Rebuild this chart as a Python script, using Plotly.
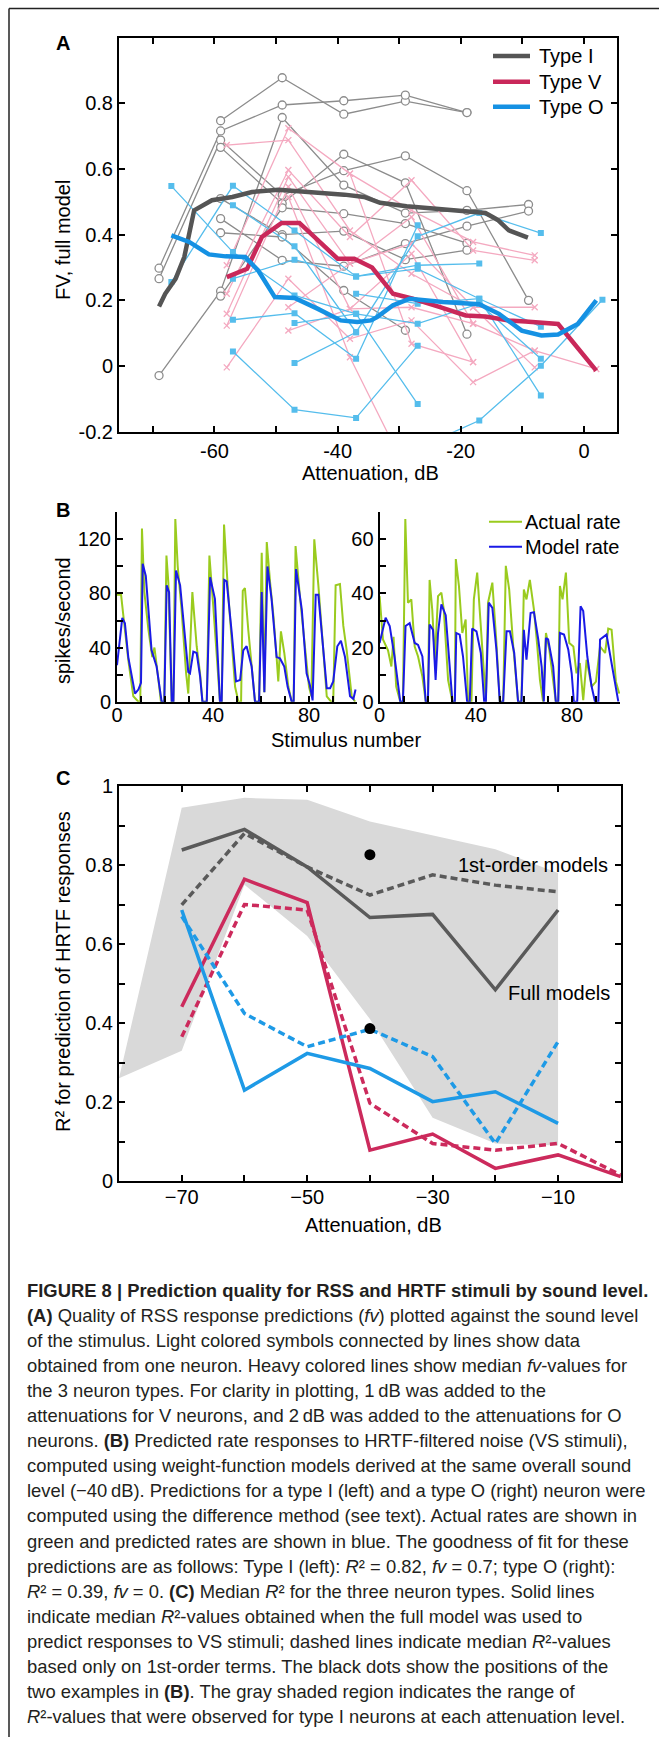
import plotly.graph_objects as go

W, H = 659, 1737
def px(x): return x / W
def py(y): return 1 - y / H

FONT = "Liberation Sans, Arial, sans-serif"

# ---------------- Panel A data ----------------
typeI_atten = [-69, -59, -49, -39, -29, -19, -9]
typeI_neurons = [
    [None, 0.747, 0.878, 0.767, 0.807, 0.772, None],
    [0.298, 0.716, 0.795, 0.808, 0.825, 0.772, None],
    [0.266, 0.688, 0.52, 0.595, 0.64, 0.534, 0.2],
    [None, 0.666, 0.495, 0.645, 0.558, 0.097, None],
    [-0.029, 0.228, 0.757, 0.551, 0.466, 0.474, 0.492],
    [None, 0.213, 0.482, 0.464, 0.434, 0.374, None],
    [None, 0.51, 0.40, 0.411, 0.324, 0.353, None],
    [None, 0.449, 0.322, 0.304, 0.373, 0.426, 0.472],
    [None, 0.406, 0.393, 0.23, 0.109, None, None],
]
typeV_atten = [-58, -48, -38, -28, -18, -8, 2]
typeV_neurons = [
    [0.673, 0.688, 0.413, 0.281, 0.179, 0.179, None],
    [0.307, 0.724, 0.586, 0.474, 0.378, 0.337, None],
    [0.220, 0.597, 0.393, 0.566, 0.352, 0.322, None],
    [0.159, 0.576, 0.312, 0.454, 0.129, 0.047, -0.009],
    [0.123, 0.546, 0.174, 0.342, 0.012, None, None],
    [-0.004, 0.266, 0.083, 0.139, -0.049, 0.047, None],
    [None, 0.515, 0.027, -0.35, None, None, None],
    [None, 0.179, 0.312, 0.373, 0.179, -0.004, None],
    [None, 0.108, 0.174, 0.179, 0.129, None, None],
    [None, None, 0.586, 0.068, 0.012, None, None],
]
typeO_atten = [-67, -57, -47, -37, -27, -17, -7, 3]
typeO_neurons = [
    [0.548, 0.347, 0.215, 0.159, 0.129, 0.19, 0.022, None],
    [0.256, 0.549, 0.413, 0.273, 0.307, 0.312, None, None],
    [None, 0.49, 0.365, 0.103, 0.395, 0.466, 0.405, None],
    [None, 0.266, 0.324, 0.273, 0.296, 0.205, 0.12, None],
    [None, 0.141, 0.161, 0.022, 0.429, None, None, None],
    [None, 0.044, -0.133, -0.158, 0.062, None, None, None],
    [None, None, 0.009, 0.103, None, None, None, None],
    [None, None, 0.131, 0.159, -0.116, None, None, None],
    [None, None, None, None, -0.25, -0.166, 0.001, 0.202],
    [None, None, None, 0.22, 0.19, 0.205, -0.09, None],
]
medI_x = [-69, -68, -66.3, -64.9, -63.3, -60.4, -57.1, -53.9, -49.6, -44.3, -38.9, -35.7,
          -33.1, -28.8, -20.3, -16, -14, -12.2, -9.1]
medI_y = [0.181, 0.22, 0.266, 0.332, 0.474, 0.505, 0.515, 0.530, 0.537, 0.530, 0.522, 0.515,
          0.497, 0.487, 0.474, 0.466, 0.445, 0.413, 0.391]
medV_x = [-58, -54.7, -52.3, -49.1, -46.2, -43.2, -40, -37.3, -34.4, -31, -27.8, -23.5,
          -19.2, -16, -12.2, -9.5, -4.2, 2]
medV_y = [0.271, 0.296, 0.393, 0.436, 0.436, 0.383, 0.327, 0.327, 0.30, 0.22, 0.205, 0.18,
          0.154, 0.151, 0.139, 0.136, 0.128, -0.014]
medO_x = [-67, -64.1, -60.9, -58.2, -55, -52.9, -50.2, -47, -43.2, -39.5, -36.8, -34.6,
          -33.6, -31, -28.3, -22.9, -17, -13.8, -10.1, -6.9, -4.2, -1, 2]
medO_y = [0.398, 0.378, 0.34, 0.334, 0.332, 0.291, 0.21, 0.207, 0.174, 0.139, 0.134, 0.139,
          0.149, 0.185, 0.205, 0.195, 0.188, 0.159, 0.108, 0.093, 0.096, 0.128, 0.2]

# ---------------- Panel B data ----------------
bl_model_x = [0, 2.2, 3.3, 4.7, 7.5, 8.9, 10, 10.7, 12, 14.4, 16.5, 18.6, 19.7, 20.7, 21.7, 22.8,
              23.5, 24.6, 26.3, 28.3, 29.7, 30.4, 31.8, 33.2, 34.6, 35.6, 37.4, 38.8, 40.8, 42.9,
              43.6, 44.7, 45.7, 47.8, 49.6, 51.3, 52.6, 54, 56.1, 57.5, 59.2, 60.3, 61.4, 62.7,
              64.4, 66.5, 67.9, 69.7, 71.1, 72.8, 73.6, 74.6, 77, 79, 80.4, 81.5, 82.8, 83.9,
              85.3, 87.4, 88.8, 90.1, 91.8, 93.3, 95, 97.1, 98.5, 99.4]
bl_model_y = [27, 62, 58, 33, 6, 9, 14, 102, 93, 38, 26, 0, 0, 86, 81, 0, 0, 97, 86, 46, 22, 21,
              37, 36, 19, 0, 0, 92, 76, 0, 0, 90, 89, 51, 15, 16, 38, 41, 26, 0, 0, 81, 7, 100,
              76, 33, 32, 26, 11, 0, 0, 98, 68, 21, 12, 1, 79, 79, 51, 10, 10, 15, 41, 45, 33,
              4, 2, 9]
bl_actual_x = [0, 1.7, 3.3, 4.7, 6.8, 8.9, 9.7, 10.4, 11.4, 13.1, 14.7, 15.6, 17, 18.3, 19.7,
               20.6, 21.4, 22.2, 22.8, 23.5, 24.3, 25.3, 26.9, 28.8, 29.7, 31.4, 33.2, 34.6,
               35.6, 37.4, 38.5, 40.1, 42.2, 42.9, 43.6, 44.6, 46.1, 47.8, 49.2, 50.6, 51.7,
               52.4, 53.3, 54.7, 56.8, 57.5, 59.2, 60.3, 61.4, 62.4, 63.8, 65.2, 66.5, 67.2,
               68.3, 69.7, 71.4, 72.8, 73.6, 74.4, 76.3, 78.3, 80, 81, 82.2, 83.9, 85.6, 87.4,
               89.2, 90.1, 91.1, 92.9, 94.3, 95.7, 97.8, 99.2]
bl_actual_y = [79, 79, 53, 31, 4, 0, 0, 128, 81, 53, 33, 40, 20, 0, 0, 108, 88, 46, 0, 0, 135,
               100, 68, 21, 6, 81, 41, 21, 0, 0, 108, 71, 21, 0, 0, 131, 86, 46, 11, 0, 0, 82,
               84, 53, 11, 0, 0, 110, 7, 118, 88, 63, 33, 15, 52, 36, 11, 0, 0, 115, 76, 41, 11,
               4, 120, 86, 43, 4, 0, 0, 86, 87, 56, 38, 4, 0]
br_model_x = [0, 2.5, 4.2, 6.2, 8.6, 9.7, 10.8, 12.5, 14.6, 16, 17.8, 19.2, 20.1, 20.8, 22.2,
              23.3, 24.3, 25.7, 27.5, 29.2, 30.3, 31.3, 31.9, 33.3, 34.7, 36.4, 37.5, 38.5,
              40.3, 42.1, 43.5, 44.2, 45.4, 46.9, 48.6, 50, 51.4, 52.8, 54.2, 56, 57.6, 59, 60,
              61.1, 62.8, 64.2, 66, 67.4, 68.3, 69.2, 70.1, 72.2, 73.3, 74.3, 75, 76.7, 78.5,
              79.9, 80.8, 82.2, 83.6, 84.7, 86.4, 88.2, 89.6, 91, 91.7, 94.4, 95.8, 97.9, 99.3]
br_model_y = [21.7, 31, 28, 16.7, 0, 0, 28, 29, 21.7, 21, 16.7, 0, 0, 28.5, 26.6, 8, 25.4, 36,
              32, 13, 0, 0, 25.4, 24.8, 16.7, 0, 0, 27, 26, 18, 0, 0, 36.6, 34.7, 19.2, 0, 0,
              26, 26, 18, 0, 0, 26.6, 15.5, 32.8, 33.1, 23, 13, 0, 23.5, 23, 13, 0, 0, 25.4,
              24.8, 19.2, 10.5, 0, 0, 35.3, 33.5, 16.7, 5.6, 0, 0, 23, 24.8, 18, 8, 0]
br_actual_x = [0, 1.4, 3.5, 4.9, 5.8, 6.9, 8.6, 9.7, 10.7, 11.8, 13.2, 14.6, 16, 17.8, 19.2,
               20.1, 20.8, 21.9, 23, 24.3, 25.7, 26.7, 28.5, 30.3, 31.3, 31.7, 33, 34.4, 35.8,
               36.8, 38.2, 39.2, 40.6, 41.7, 43, 44.2, 45.1, 46.9, 48.6, 50, 51.4, 52.5, 53.9,
               55.6, 57.6, 59, 60, 61.1, 62.5, 64.2, 65.6, 66.7, 68, 69.2, 70.6, 72.2, 73.3,
               74.3, 75, 76.1, 77.5, 78.9, 80.6, 81.9, 83.3, 84.7, 86.1, 88.2, 90, 91.7, 93.8,
               95.1, 96.5, 98.3, 99.7]
br_actual_y = [39, 23, 19, 13, 24, 5.6, 0, 0, 67.5, 36.6, 37.8, 20.4, 16.7, 9.3, 0, 0, 45, 34,
               15.5, 39, 40.3, 34, 8, 0, 0, 52.7, 42.8, 25.4, 30.4, 0, 0, 37.8, 47.7, 34, 16.7,
               0, 36.6, 44, 21.7, 0, 0, 50.2, 41.5, 20.4, 0, 0, 41.5, 37.8, 45, 34, 20.4, 8, 0,
               25.4, 19.2, 6.8, 0, 0, 42.8, 37.8, 47.7, 21.7, 20.4, 10.5, 14.3, 0.6, 15.5, 5.6,
               7.4, 20.4, 18, 27, 26.6, 7.4, 3]

# ---------------- Panel C data ----------------
c_atten7 = [-70, -60, -50, -40, -30, -20, -10]
c_atten8 = [-70, -60, -50, -40, -30, -20, -10, 0]
r2_I_full = [0.838, 0.890, 0.795, 0.667, 0.675, 0.484, 0.686]
r2_I_first = [0.699, 0.880, 0.795, 0.724, 0.775, 0.749, 0.732]
r2_V_full = [0.441, 0.764, 0.705, 0.078, 0.119, 0.032, 0.066, 0.011]
r2_V_first = [0.365, 0.700, 0.686, 0.197, 0.095, 0.078, 0.095, 0.015]
r2_O_full = [0.686, 0.230, 0.323, 0.285, 0.201, 0.226, 0.146]
r2_O_first = [0.670, 0.424, 0.340, 0.384, 0.315, 0.095, 0.353]
shade_x = [-80, -70, -60, -50, -40, -30, -20, -10]
shade_hi = [0.26, 0.945, 0.97, 0.965, 0.91, 0.875, 0.84, 0.78]
shade_lo = [0.26, 0.33, 0.75, 0.62, 0.41, 0.16, 0.095, 0.09]
example_x = [-40, -40]
example_r2 = [0.826, 0.386]

# ---------------- tick labels ----------------
a_x_major = [-60, -40, -20, 0]
a_x_minor = [-70, -50, -30, -10]
a_y_major = [-0.2, 0, 0.2, 0.4, 0.6, 0.8]
b_x_major = [0, 40, 80]
b_x_minor = [10, 20, 30, 50, 60, 70, 90]
bl_y_major = [0, 40, 80, 120]
bl_y_minor = [20, 60, 100, 140]
br_y_major = [0, 20, 40, 60]
br_y_minor = [10, 30, 50, 70]
c_x_major = [-70, -50, -30, -10]
c_x_minor = [-60, -40, -20]
c_y_major = [0, 0.2, 0.4, 0.6, 0.8, 1.0]
c_y_minor = [0.1, 0.3, 0.5, 0.7, 0.9]

# ---------------- colors ----------------
C_I_LIGHT, C_V_LIGHT, C_O_LIGHT = "#8c8c8c", "#f4a9c0", "#55bdec"
C_I, C_V, C_O = "#555555", "#c9285a", "#1591e3"
C_IC, C_VC, C_OC = "#5a5a5a", "#cc2a5c", "#1e9ae6"
C_GREEN, C_BLUE = "#9acb1e", "#1a1ae6"

fig = go.Figure()
common = dict(showlegend=False, hoverinfo="skip")

# Panel A individual neurons
for vals in typeI_neurons:
    fig.add_trace(go.Scatter(x=typeI_atten, y=vals, mode="lines+markers", connectgaps=True,
                             line=dict(color=C_I_LIGHT, width=1.3),
                             marker=dict(symbol="circle", size=8, color="white",
                                         line=dict(color=C_I_LIGHT, width=1.3)),
                             xaxis="x", yaxis="y", **common))
for vals in typeV_neurons:
    fig.add_trace(go.Scatter(x=typeV_atten, y=vals, mode="lines+markers", connectgaps=True,
                             line=dict(color=C_V_LIGHT, width=1.3),
                             marker=dict(symbol="x-thin", size=6,
                                         line=dict(color=C_V_LIGHT, width=1.3)),
                             xaxis="x", yaxis="y", **common))
for vals in typeO_neurons:
    fig.add_trace(go.Scatter(x=typeO_atten, y=vals, mode="lines+markers", connectgaps=True,
                             line=dict(color=C_O_LIGHT, width=1.3),
                             marker=dict(symbol="square", size=6, color=C_O_LIGHT),
                             xaxis="x", yaxis="y", **common))
# medians
for mx, my, c in [(medI_x, medI_y, C_I), (medV_x, medV_y, C_V), (medO_x, medO_y, C_O)]:
    fig.add_trace(go.Scatter(x=mx, y=my, mode="lines", line=dict(color=c, width=4.5),
                             xaxis="x", yaxis="y", **common))

# Panel B
fig.add_trace(go.Scatter(x=bl_actual_x, y=bl_actual_y, mode="lines",
                         line=dict(color=C_GREEN, width=2), xaxis="x2", yaxis="y2", **common))
fig.add_trace(go.Scatter(x=bl_model_x, y=bl_model_y, mode="lines",
                         line=dict(color=C_BLUE, width=2), xaxis="x2", yaxis="y2", **common))
fig.add_trace(go.Scatter(x=br_actual_x, y=br_actual_y, mode="lines",
                         line=dict(color=C_GREEN, width=2), xaxis="x3", yaxis="y3", **common))
fig.add_trace(go.Scatter(x=br_model_x, y=br_model_y, mode="lines",
                         line=dict(color=C_BLUE, width=2), xaxis="x3", yaxis="y3", **common))

# Panel C
fig.add_trace(go.Scatter(x=shade_x + shade_x[::-1], y=shade_hi + shade_lo[::-1],
                         mode="lines", fill="toself", fillcolor="#d9d9d9",
                         line=dict(width=0, color="#d9d9d9"), xaxis="x4", yaxis="y4", **common))
DASH = "7px,4px"
for xs, ys, c, d in [(c_atten7, r2_I_full, C_IC, "solid"), (c_atten7, r2_I_first, C_IC, DASH),
                     (c_atten8, r2_V_full, C_VC, "solid"), (c_atten8, r2_V_first, C_VC, DASH),
                     (c_atten7, r2_O_full, C_OC, "solid"), (c_atten7, r2_O_first, C_OC, DASH)]:
    fig.add_trace(go.Scatter(x=xs, y=ys, mode="lines", line=dict(color=c, width=3.5, dash=d),
                             xaxis="x4", yaxis="y4", **common))
fig.add_trace(go.Scatter(x=example_x, y=example_r2, mode="markers",
                         marker=dict(color="black", size=11), xaxis="x4", yaxis="y4", **common))

# ---------------- axes ----------------
tickfont = dict(family=FONT, size=20, color="black")
box = dict(showline=True, linecolor="black", linewidth=2, ticks="inside", ticklen=6,
           tickwidth=1.5, tickcolor="black", showgrid=False, zeroline=False,
           tickfont=tickfont, automargin=False, fixedrange=True)

def minor(vals):
    return dict(tickvals=vals, ticks="inside", ticklen=6, tickwidth=1.5, tickcolor="black",
                showgrid=False)

def fmt(v):
    return ("%g" % v)

fig.update_layout(
    xaxis=dict(domain=[px(119), px(616.6)], range=[-75.5, 5.3], anchor="y", mirror="ticks",
               tickvals=a_x_major, ticktext=[fmt(v) for v in a_x_major],
               minor=minor(a_x_minor), **box),
    yaxis=dict(domain=[py(431.7), py(37.7)], range=[-0.2, 1.0], anchor="x", mirror="ticks",
               tickvals=a_y_major, ticktext=[fmt(v) for v in a_y_major], **box),
    xaxis2=dict(domain=[px(117), px(357)], range=[0, 100], anchor="y2",
                tickvals=b_x_major, ticktext=[fmt(v) for v in b_x_major],
                minor=minor(b_x_minor), ticklabelstandoff=-6, **box),
    yaxis2=dict(domain=[py(701.7), py(512.3)], range=[0, 140], anchor="x2",
                tickvals=bl_y_major, ticktext=[fmt(v) for v in bl_y_major],
                minor=minor(bl_y_minor), **box),
    xaxis3=dict(domain=[px(379.6), px(620)], range=[0, 100], anchor="y3",
                tickvals=b_x_major, ticktext=[fmt(v) for v in b_x_major],
                minor=minor(b_x_minor), ticklabelstandoff=-6, **box),
    yaxis3=dict(domain=[py(701.7), py(512.3)], range=[0, 70], anchor="x3",
                tickvals=br_y_major, ticktext=[fmt(v) for v in br_y_major],
                minor=minor(br_y_minor), **box),
    xaxis4=dict(domain=[px(119), px(620.8)], range=[-80, 0], anchor="y4", mirror="ticks",
                tickvals=c_x_major, ticktext=[fmt(v).replace("-", "\u2212") for v in c_x_major],
                minor=minor(c_x_minor), ticklabelstandoff=-3, **box),
    yaxis4=dict(domain=[py(1181), py(786)], range=[0, 1], anchor="x4", mirror="ticks",
                tickvals=c_y_major, ticktext=[fmt(v) for v in c_y_major],
                minor=minor(c_y_minor), **box),
)

# ---------------- annotations ----------------
ann = []
def text(x, y, s, size=20, bold=False, xanchor="center", angle=0, color="black"):
    ann.append(dict(x=px(x), y=py(y), xref="paper", yref="paper",
                    text=("<b>%s</b>" % s) if bold else s,
                    showarrow=False, xanchor=xanchor, yanchor="middle", textangle=angle,
                    font=dict(family=FONT, size=size, color=color)))

text(63, 43, "A", bold=True)
text(63, 510, "B", bold=True)
text(63, 778, "C", bold=True)
text(63, 240, "FV, full model", angle=-90)
text(370.7, 473, "Attenuation, dB")
text(63, 621, "spikes/second", angle=-90)
text(346, 740, "Stimulus number")
text(63, 972, "R\u00b2 for prediction of HRTF responses", angle=-90)
text(373, 1225, "Attenuation, dB")
text(610, 865, "1st-order models", xanchor="right")
text(612, 993, "Full models", xanchor="right")

shapes = []
for lab, c, yy in [("Type I", C_I, 56), ("Type V", C_V, 81.7), ("Type O", C_O, 106.7)]:
    shapes.append(dict(type="line", xref="paper", yref="paper", x0=px(493), x1=px(530),
                       y0=py(yy), y1=py(yy), line=dict(color=c, width=4.5)))
    text(537, yy, lab, xanchor="left")
for lab, c, yy in [("Actual rate", C_GREEN, 521.7), ("Model rate", C_BLUE, 546.7)]:
    shapes.append(dict(type="line", xref="paper", yref="paper", x0=px(489), x1=px(522),
                       y0=py(yy), y1=py(yy), line=dict(color=c, width=2)))
    text(523, yy, lab, xanchor="left")

# outer frame
shapes.append(dict(type="line", xref="paper", yref="paper", x0=px(9), x1=1.0, y0=py(8.5), y1=py(8.5),
                   line=dict(color="#222", width=1.5)))
shapes.append(dict(type="line", xref="paper", yref="paper", x0=px(9), x1=px(9), y0=py(8.5), y1=0,
                   line=dict(color="#222", width=1.5)))

R2 = "<i>R</i>\u00b2"
caption = [
    "<b>FIGURE 8 | Prediction quality for RSS and HRTF stimuli by sound level.</b>",
    "<b>(A)</b> Quality of RSS response predictions (<i>fv</i>) plotted against the sound level",
    "of the stimulus. Light colored symbols connected by lines show data",
    "obtained from one neuron. Heavy colored lines show median <i>fv</i>-values for",
    "the 3 neuron types. For clarity in plotting, 1\u2009dB was added to the",
    "attenuations for V neurons, and 2\u2009dB was added to the attenuations for O",
    "neurons. <b>(B)</b> Predicted rate responses to HRTF-filtered noise (VS stimuli),",
    "computed using weight-function models derived at the same overall sound",
    "level (\u221240\u2009dB). Predictions for a type I (left) and a type O (right) neuron were",
    "computed using the difference method (see text). Actual rates are shown in",
    "green and predicted rates are shown in blue. The goodness of fit for these",
    "predictions are as follows: Type I (left): " + R2 + " = 0.82, <i>fv</i> = 0.7; type O (right):",
    R2 + " = 0.39, <i>fv</i> = 0. <b>(C)</b> Median " + R2 + " for the three neuron types. Solid lines",
    "indicate median " + R2 + "-values obtained when the full model was used to",
    "predict responses to VS stimuli; dashed lines indicate median " + R2 + "-values",
    "based only on 1st-order terms. The black dots show the positions of the",
    "two examples in <b>(B)</b>. The gray shaded region indicates the range of",
    R2 + "-values that were observed for type I neurons at each attenuation level.",
]
for i, line in enumerate(caption):
    text(25, 1290 + i * 25.1, line, size=18.4, xanchor="left", color="#231f20")

fig.update_layout(
    template="none",
    width=W, height=H, margin=dict(l=0, r=0, t=0, b=0, pad=0),
    paper_bgcolor="white", plot_bgcolor="white",
    font=dict(family=FONT, size=20, color="black"),
    showlegend=False, annotations=ann, shapes=shapes,
)

fig.write_html("out.html", config={"displayModeBar": False},
               post_script="document.body.style.margin='0';document.body.style.overflow='hidden';")
